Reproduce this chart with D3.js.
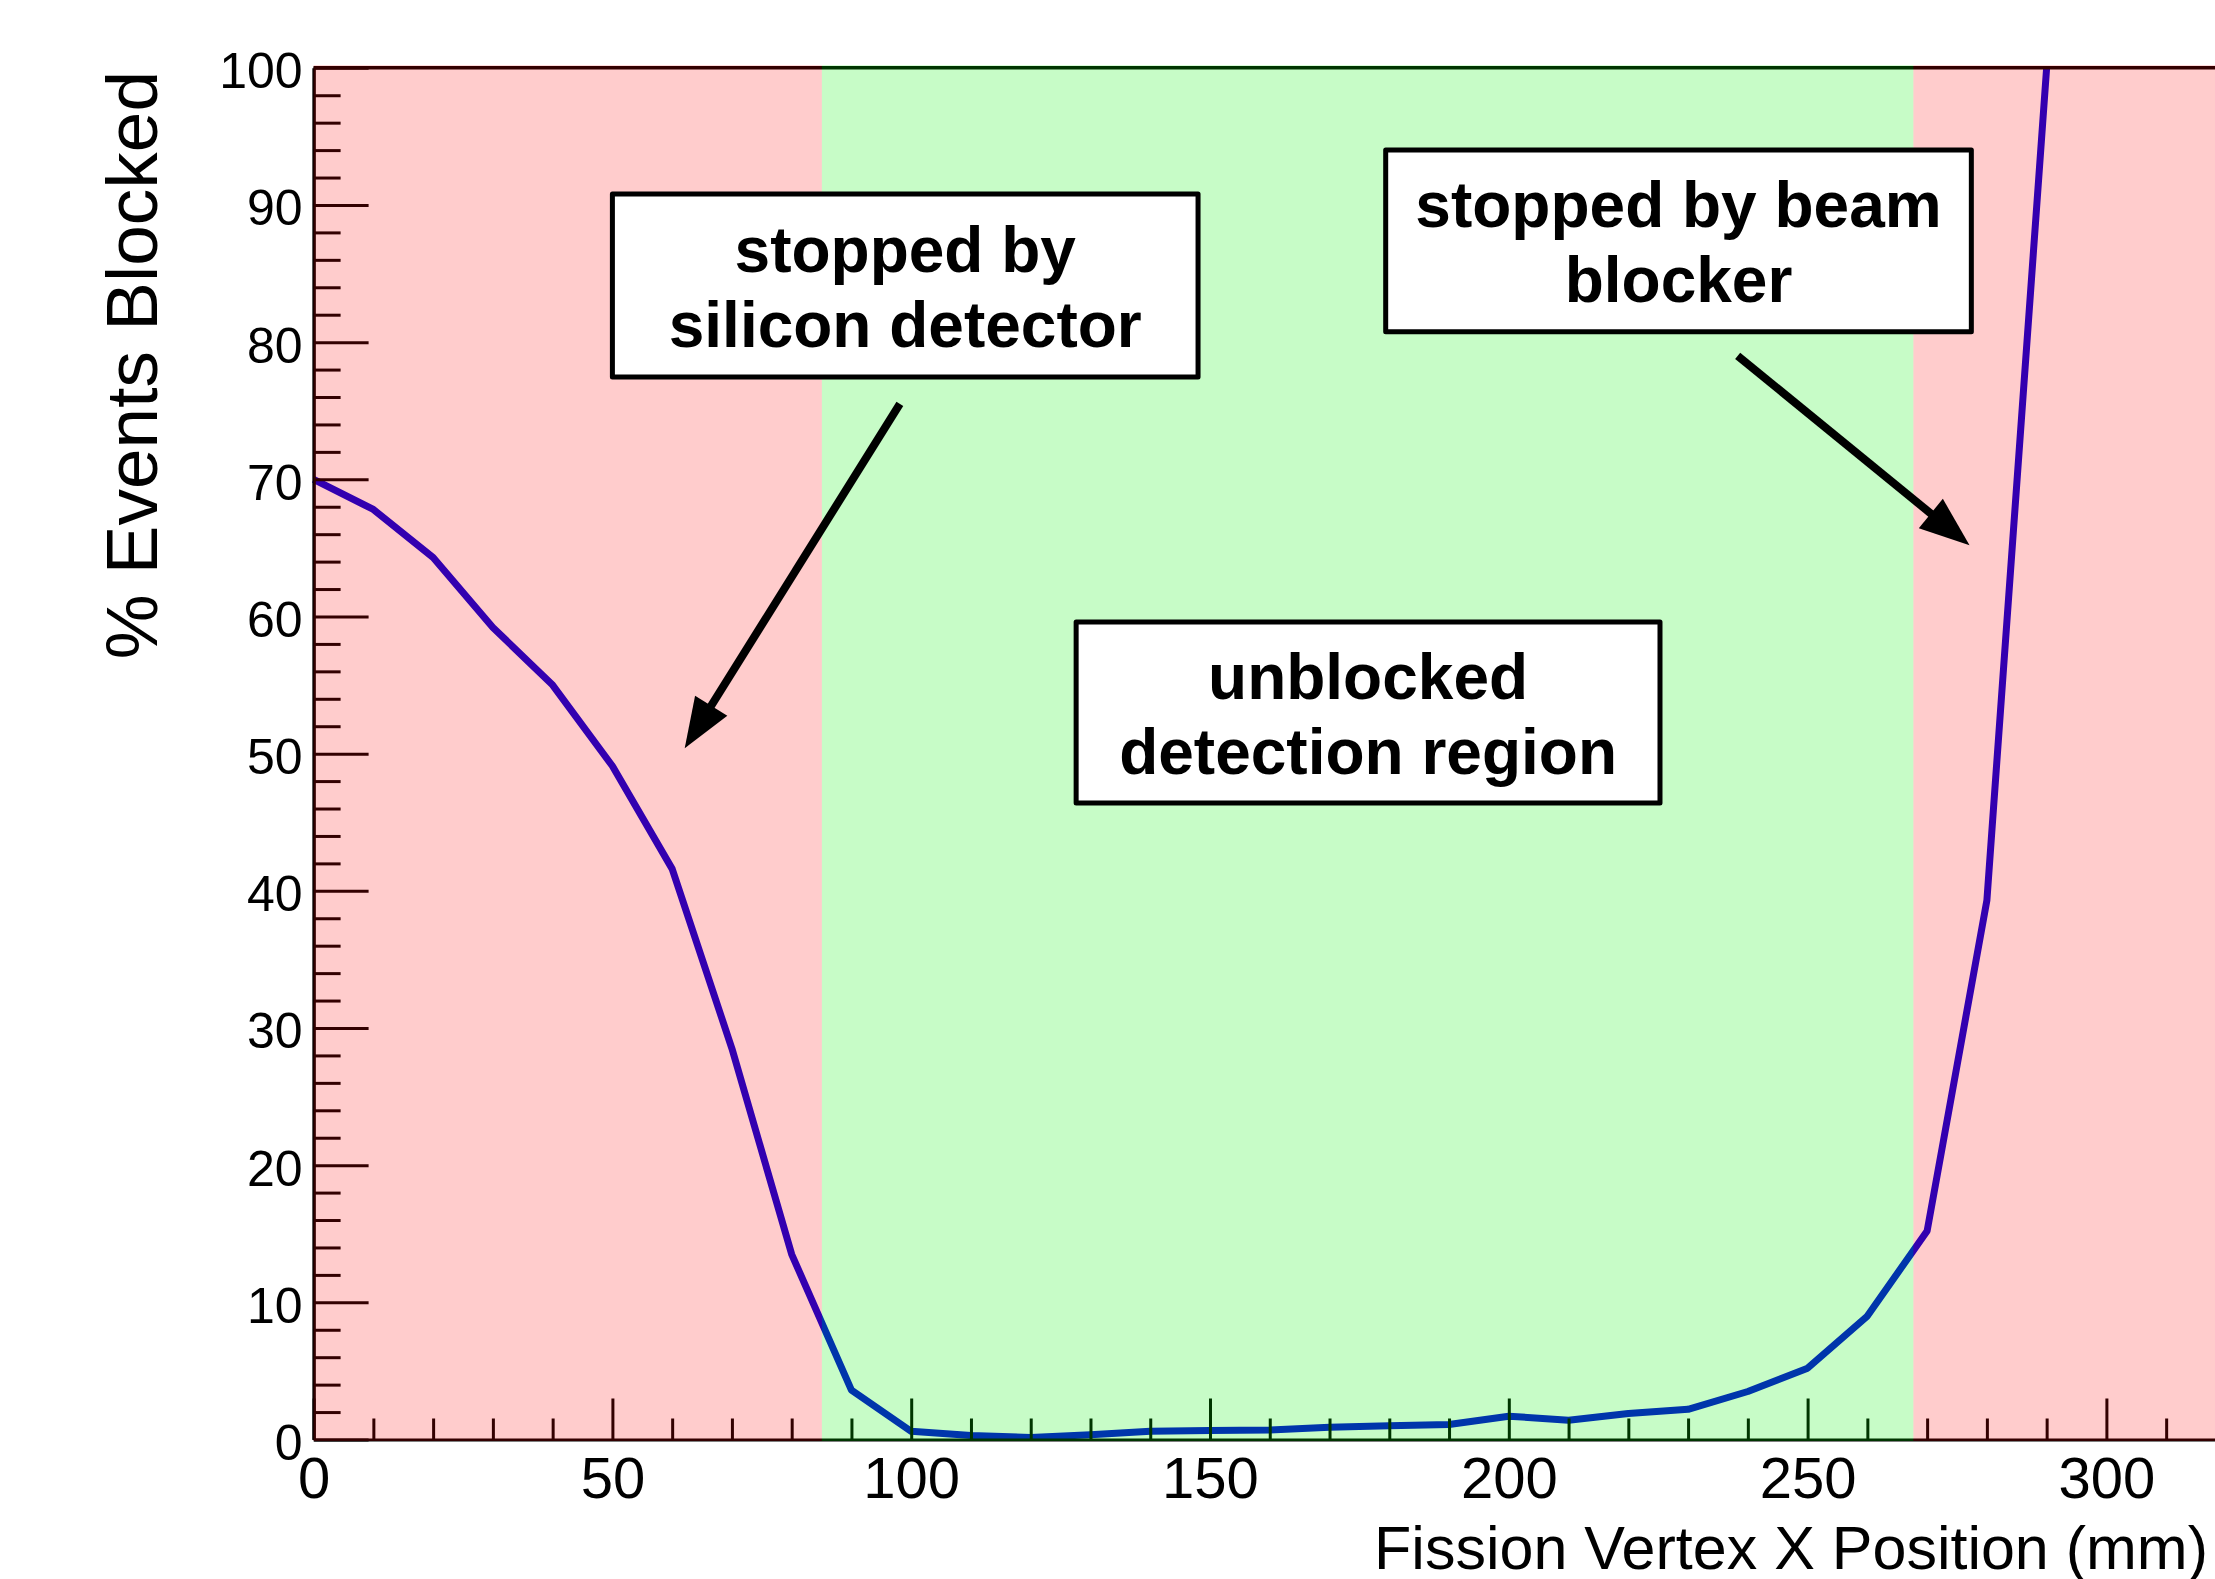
<!DOCTYPE html>
<html>
<head>
<meta charset="utf-8">
<script src="https://cdn.jsdelivr.net/npm/d3@7"></script>
<style>
  html, body { margin: 0; padding: 0; background: #ffffff; overflow: hidden; }
  svg { display: block; }
</style>
</head>
<body>
<svg id="chart" width="2215" height="1579"></svg>
<script>
// ---------------- DATA ----------------
const positionMm = [0, 10, 20, 30, 40, 50, 60, 70, 80, 90, 100, 110, 120, 130, 140,
                    150, 160, 170, 180, 190, 200, 210, 220, 230, 240, 250, 260, 270, 280, 290];
const percentBlocked = [70.0, 67.8, 64.3, 59.2, 55.0, 49.1, 41.6, 28.5, 13.5, 3.6, 0.6, 0.3, 0.15, 0.35, 0.6,
                        0.65, 0.7, 0.9, 1.0, 1.1, 1.7, 1.4, 1.9, 2.2, 3.5, 5.2, 9.0, 15.2, 39.3, 100.0];

const xMajorTicks = [0, 50, 100, 150, 200, 250, 300];
const yMajorTicks = [0, 10, 20, 30, 40, 50, 60, 70, 80, 90, 100];

const regionStart = [0, 85.05, 267.7];
const regionEnd   = [85.05, 267.7, 320];
const regionKind  = ["blocked", "open", "blocked"];

const noteLines = [["stopped by", "silicon detector"],
                   ["stopped by beam", "blocker"],
                   ["unblocked", "detection region"]];
const noteX0 = [50.0, 179.4, 127.6];
const noteX1 = [148.0, 277.4, 225.3];
const noteYTop = [90.8, 94.0, 59.6];
const noteYBottom = [77.45, 80.75, 46.4];

const arrowFromX = [98.1, 238.3];
const arrowFromY = [75.5, 79.0];
const arrowToX = [62.1, 277.1];
const arrowToY = [50.4, 65.2];

const xTitle = "Fission Vertex X Position (mm)";
const yTitle = "% Events Blocked";

// ---------------- LAYOUT ----------------
const FONT = "'Liberation Sans', Arial, Helvetica, sans-serif";
const svg = d3.select("#chart");

const x = d3.scaleLinear().domain([0, 320]).range([313.6, 313.6 + 320 * 5.976]);
const y = d3.scaleLinear().domain([0, 100]).range([1439.5, 67.8]);

svg.append("rect").attr("x", 0).attr("y", 0).attr("width", 2215).attr("height", 1579).attr("fill", "#ffffff");

// data line (drawn first, tinted by translucent region overlays like the original)
const line = d3.line().x((d, i) => x(positionMm[i])).y(d => y(d)).curve(d3.curveLinear);
svg.append("path")
  .datum(percentBlocked)
  .attr("d", line)
  .attr("fill", "none")
  .attr("stroke", "#0000dc")
  .attr("stroke-width", 7)
  .attr("stroke-linejoin", "round")
  .attr("stroke-linecap", "butt");

// minor ticks lists
const xMinor = d3.range(0, 321, 10).filter(v => v % 50 !== 0);
const yMinor = d3.range(0, 101, 2).filter(v => v % 10 !== 0);

// X axis
const gx = svg.append("g").attr("transform", `translate(0,${y(0)})`);
gx.call(d3.axisBottom(x).tickValues(xMinor).tickSize(-21).tickSizeOuter(0).tickFormat(""));
gx.select(".domain").remove();
const gx2 = svg.append("g").attr("transform", `translate(0,${y(0)})`);
gx2.call(d3.axisBottom(x).tickValues(xMajorTicks).tickSize(-41).tickSizeOuter(0).tickPadding(17).tickFormat(d3.format("d")));
[gx, gx2].forEach(g => {
  g.selectAll(".tick line").attr("stroke", "#000").attr("stroke-width", 3);
});
gx2.select(".domain").attr("stroke", "#000").attr("stroke-width", 3);
gx2.selectAll(".tick text")
  .attr("fill", "#000")
  .style("font-family", FONT)
  .style("font-size", "58px");

// top frame line
svg.append("line")
  .attr("x1", x(0)).attr("x2", x(320))
  .attr("y1", y(100)).attr("y2", y(100))
  .attr("stroke", "#000").attr("stroke-width", 3.5);

// Y axis
const gy = svg.append("g").attr("transform", `translate(${x(0)},0)`);
gy.call(d3.axisLeft(y).tickValues(yMinor).tickSize(-27).tickSizeOuter(0).tickFormat(""));
gy.select(".domain").remove();
const gy2 = svg.append("g").attr("transform", `translate(${x(0)},0)`);
gy2.call(d3.axisLeft(y).tickValues(yMajorTicks).tickSize(-55).tickSizeOuter(0).tickPadding(11).tickFormat(d3.format("d")));
[gy, gy2].forEach(g => {
  g.selectAll(".tick line").attr("stroke", "#000").attr("stroke-width", 3);
});
gy2.select(".domain").attr("stroke", "#000").attr("stroke-width", 3.5);
gy2.selectAll(".tick text")
  .attr("fill", "#000")
  .attr("dy", "0.4em")
  .style("font-family", FONT)
  .style("font-size", "50px");

// translucent region overlays
const regionFill = { blocked: "rgba(255,0,0,0.2)", open: "rgba(0,240,0,0.22)" };
svg.append("g").selectAll("rect")
  .data(regionStart)
  .join("rect")
  .attr("x", (d) => x(d))
  .attr("width", (d, i) => x(regionEnd[i]) - x(d))
  .attr("y", y(100) - 2.5)
  .attr("height", y(0) - y(100) + 4)
  .attr("fill", (d, i) => regionFill[regionKind[i]]);

// axis titles
svg.append("text")
  .attr("x", 2208).attr("y", 1569)
  .attr("text-anchor", "end")
  .style("font-family", FONT)
  .style("font-size", "61px")
  .attr("fill", "#000")
  .text(xTitle);

svg.append("text")
  .attr("transform", `translate(157,71) rotate(-90)`)
  .attr("text-anchor", "end")
  .style("font-family", FONT)
  .style("font-size", "73px")
  .attr("fill", "#000")
  .text(yTitle);

// annotation boxes
const notes = svg.append("g");
noteLines.forEach((lines, i) => {
  const bx0 = x(noteX0[i]), bx1 = x(noteX1[i]);
  const by0 = y(noteYTop[i]), by1 = y(noteYBottom[i]);
  const h = by1 - by0;
  notes.append("rect")
    .attr("x", bx0).attr("y", by0)
    .attr("width", bx1 - bx0).attr("height", h)
    .attr("fill", "#ffffff")
    .attr("stroke", "#000")
    .attr("stroke-width", 5)
    .attr("stroke-linejoin", "round");
  lines.forEach((t, j) => {
    notes.append("text")
      .attr("x", (bx0 + bx1) / 2)
      .attr("y", by0 + h * (j === 0 ? 0.425 : 0.838))
      .attr("text-anchor", "middle")
      .style("font-family", FONT)
      .style("font-weight", "bold")
      .style("font-size", "64px")
      .attr("fill", "#000")
      .text(t);
  });
});

// arrows
const arrows = svg.append("g");
arrowFromX.forEach((fx, i) => {
  const x1 = x(fx), y1 = y(arrowFromY[i]);
  const x2 = x(arrowToX[i]), y2 = y(arrowToY[i]);
  const dx = x2 - x1, dy = y2 - y1;
  const L = Math.hypot(dx, dy);
  const ux = dx / L, uy = dy / L;
  const headLen = 50, headHalf = 19;
  const bx = x2 - ux * headLen, by = y2 - uy * headLen;
  arrows.append("line")
    .attr("x1", x1).attr("y1", y1)
    .attr("x2", bx + ux * 4).attr("y2", by + uy * 4)
    .attr("stroke", "#000").attr("stroke-width", 8);
  arrows.append("path")
    .attr("d", `M${x2},${y2} L${bx - uy * headHalf},${by + ux * headHalf} L${bx + uy * headHalf},${by - ux * headHalf} Z`)
    .attr("fill", "#000");
});
</script>
</body>
</html>
